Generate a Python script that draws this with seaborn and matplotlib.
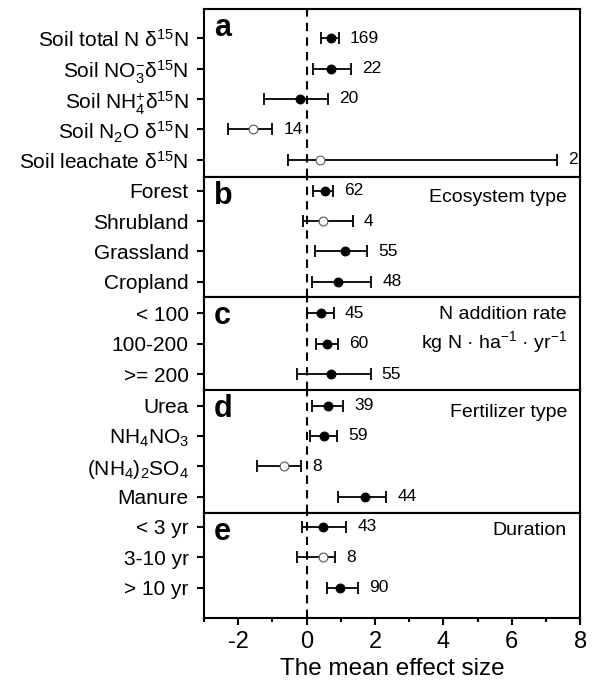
import numpy as np
import pandas as pd
import seaborn as sns
import matplotlib.pyplot as plt
from matplotlib.ticker import MultipleLocator

sns.set_style('ticks')
plt.rcParams['font.family'] = ['Liberation Sans', 'DejaVu Sans']
plt.rcParams['mathtext.fontset'] = 'custom'
plt.rcParams['mathtext.rm'] = 'Liberation Sans'
plt.rcParams['mathtext.it'] = 'Liberation Sans:italic'
plt.rcParams['mathtext.default'] = 'regular'
plt.rcParams['axes.unicode_minus'] = False
for key in ['text.color', 'axes.labelcolor', 'xtick.color', 'ytick.color']:
    plt.rcParams[key] = 'black'

# %% data (mean effect size, 95% CI, number of observations)
# a. 15N pools
a_labels = ['Soil total N δ$^{15}$N', 'Soil NO$_3^{-}$δ$^{15}$N', 'Soil NH$_4^{+}$δ$^{15}$N',
            'Soil N$_2$O δ$^{15}$N', 'Soil leachate δ$^{15}$N']
a_mean = [0.70, 0.70, -0.18, -1.56, 0.39]
a_lo = [0.41, 0.19, -1.25, -2.30, -0.55]
a_hi = [0.94, 1.29, 0.63, -1.00, 7.32]
a_n = [169, 22, 20, 14, 2]
a_sig = [True, True, True, False, False]

# b. Ecosystem type
b_labels = ['Forest', 'Shrubland', 'Grassland', 'Cropland']
b_mean = [0.53, 0.49, 1.12, 0.92]
b_lo = [0.19, -0.10, 0.24, 0.15]
b_hi = [0.78, 1.35, 1.77, 1.89]
b_n = [62, 4, 55, 48]
b_sig = [True, False, True, True]

# c. N addition rate
c_labels = ['< 100', '100-200', '>= 200']
c_mean = [0.43, 0.60, 0.72]
c_lo = [0.02, 0.28, -0.27]
c_hi = [0.80, 0.93, 1.87]
c_n = [45, 60, 55]
c_sig = [True, True, True]

# d. Fertilizer type
d_labels = ['Urea', 'NH$_4$NO$_3$', '(NH$_4$)$_2$SO$_4$', 'Manure']
d_mean = [0.62, 0.51, -0.66, 1.70]
d_lo = [0.15, 0.10, -1.44, 0.92]
d_hi = [1.07, 0.90, -0.16, 2.33]
d_n = [39, 59, 8, 44]
d_sig = [True, True, False, True]

# e. Duration
e_labels = ['< 3 yr', '3-10 yr', '> 10 yr']
e_mean = [0.49, 0.48, 0.97]
e_lo = [-0.15, -0.29, 0.60]
e_hi = [1.16, 0.82, 1.50]
e_n = [43, 8, 90]
e_sig = [True, False, True]

panel_letters = ['a', 'b', 'c', 'd', 'e']
panel_titles = ['', 'Ecosystem type', 'N addition rate\nkg N · ha$^{-1}$ · yr$^{-1}$',
                'Fertilizer type', 'Duration']

panels = [
    (a_labels, a_mean, a_lo, a_hi, a_n, a_sig),
    (b_labels, b_mean, b_lo, b_hi, b_n, b_sig),
    (c_labels, c_mean, c_lo, c_hi, c_n, c_sig),
    (d_labels, d_mean, d_lo, d_hi, d_n, d_sig),
    (e_labels, e_mean, e_lo, e_hi, e_n, e_sig),
]

# padding above first row / below last row (in row units)
pad_top = [0.96, 0.45, 0.53, 0.50, 0.46]
pad_bot = [0.56, 0.50, 0.53, 0.52, 1.00]
title_y = [0.0, 0.83, 0.64, 0.82, 0.83]
heights = [len(p[0]) - 1 + pt + pb for p, pt, pb in zip(panels, pad_top, pad_bot)]

# %% plot
fig, axes = plt.subplots(5, 1, figsize=(5.95, 6.81), dpi=100, sharex=True,
                         gridspec_kw={'height_ratios': heights})
fig.subplots_adjust(left=0.343, right=0.975, top=0.987, bottom=0.0925, hspace=0)

for i, (ax, (labels, mean, lo, hi, n, sig)) in enumerate(zip(axes, panels)):
    df = pd.DataFrame({'label': labels, 'mean': mean, 'lo': lo, 'hi': hi,
                       'n': n, 'sig': sig})
    df['pos'] = np.arange(len(df))

    ax.axvline(0, color='black', lw=1.5, ls=(0, (4, 3)), zorder=1)
    ax.errorbar(df['mean'], df['pos'],
                xerr=[df['mean'] - df['lo'], df['hi'] - df['mean']],
                fmt='none', ecolor='black', elinewidth=1.3, capsize=4.5,
                capthick=1.3, zorder=2)
    sns.scatterplot(data=df[df['sig']], x='mean', y='pos', ax=ax, s=40,
                    color='black', edgecolor='black', linewidth=0.8, zorder=3,
                    legend=False)
    sns.scatterplot(data=df[~df['sig']], x='mean', y='pos', ax=ax, s=40,
                    color='white', edgecolor='#555555', linewidth=0.8, zorder=3,
                    legend=False)

    for _, r in df.iterrows():
        ax.annotate(str(r['n']), xy=(r['hi'], r['pos']), xytext=(8, 0),
                    textcoords='offset points', ha='left', va='center',
                    fontsize=12.5)

    ax.set_ylim(len(df) - 1 + pad_bot[i], -pad_top[i])
    ax.set_yticks(df['pos'])
    ax.set_yticklabels(labels, fontsize=15)
    ax.set_ylabel('')
    ax.set_xlabel('')
    ax.tick_params(axis='y', direction='out', length=5, width=1.5, pad=6)

    ax.annotate(panel_letters[i], xy=(0, 1), xycoords='axes fraction',
                xytext=(7, -3), textcoords='offset points', ha='left', va='top',
                fontsize=22, fontweight='bold')
    if panel_titles[i]:
        ax.text(0.965, title_y[i], panel_titles[i], transform=ax.transAxes,
                ha='right', va='center', fontsize=14, linespacing=1.35)

    for sp in ax.spines.values():
        sp.set_visible(True)
        sp.set_linewidth(1.5)
        sp.set_color('black')
    if i < 4:
        ax.tick_params(axis='x', which='both', bottom=False, labelbottom=False)

ax = axes[-1]
ax.set_xlim(-3, 8)
ax.xaxis.set_major_locator(MultipleLocator(2))
ax.xaxis.set_minor_locator(MultipleLocator(1))
ax.tick_params(axis='x', which='major', direction='out', length=5, width=1.5,
               labelsize=17, pad=4)
ax.tick_params(axis='x', which='minor', direction='out', length=3, width=1.5)
ax.set_xlabel('The mean effect size', fontsize=17.5, labelpad=4)

fig.savefig('out.png', dpi=100)
